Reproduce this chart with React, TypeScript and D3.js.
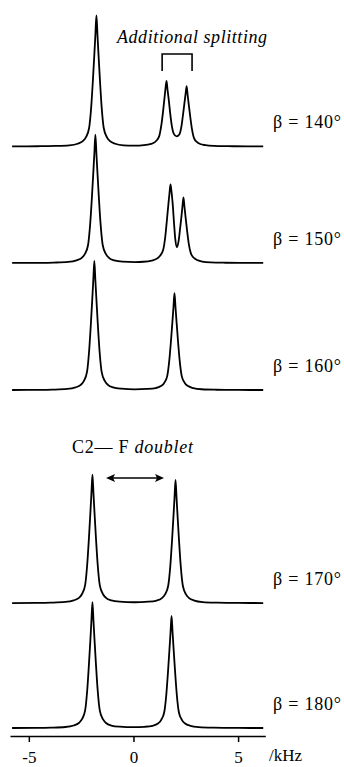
import React, { useEffect, useRef } from "react";
import * as d3 from "d3";

// ---- data (frequency in kHz, intensity in a.u.; 140° main peak = 100) ----
const angles = ["140", "150", "160", "170", "180"];
const offsets = [444, 355, 258, 95.4, 0]; // vertical stacking offsets (a.u.)

const spec140: [number, number][] = [
  [-5.8, 0], [-4.6, 0.1], [-3.77, 0.3], [-3.07, 0.8], [-2.67, 2], [-2.42, 4], [-2.27, 7], [-2.12, 14],
  [-2.02, 30], [-1.94, 50], [-1.87, 70], [-1.82, 85], [-1.77, 100], [-1.72, 85], [-1.67, 70],
  [-1.6, 50], [-1.52, 30], [-1.42, 14], [-1.27, 7], [-1.12, 4], [-0.87, 2], [-0.47, 0.8],
  [0.0, 0.5], [0.28, 0.6], [0.68, 1.3], [0.93, 2.4], [1.08, 4.1], [1.23, 7.8], [1.33, 16],
  [1.41, 26], [1.48, 36.5], [1.53, 44], [1.58, 50], [1.63, 43], [1.68, 36.5], [1.75, 26],
  [1.83, 16], [1.93, 9.5], [2.06, 7.6], [2.19, 9], [2.29, 15], [2.37, 24.5], [2.44, 33.5],
  [2.49, 40], [2.54, 46], [2.59, 39], [2.64, 32.2], [2.71, 23], [2.79, 13.8], [2.89, 6.5],
  [3.04, 3.2], [3.19, 1.8], [3.44, 0.9], [3.84, 0.37], [4.54, 0.14], [5.5, 0], [6.2, 0],
];

const spec150: [number, number][] = [
  [-5.8, 0], [-4.6, 0.1], [-3.82, 0.3], [-3.12, 0.8], [-2.72, 2], [-2.47, 3.9], [-2.32, 6.9], [-2.17, 13.7],
  [-2.07, 29.4], [-1.99, 49], [-1.92, 68.6], [-1.87, 83.3], [-1.82, 98], [-1.77, 83.3], [-1.72, 68.6],
  [-1.65, 49], [-1.57, 29.4], [-1.47, 13.7], [-1.32, 6.9], [-1.17, 3.9], [-0.92, 2], [-0.52, 1],
  [0.1, 0.7], [0.47, 0.9], [0.87, 1.8], [1.12, 3.3], [1.27, 5.5], [1.42, 10], [1.52, 20],
  [1.6, 33], [1.67, 45], [1.72, 53], [1.77, 60], [1.82, 54], [1.87, 46], [1.94, 30], [2.0, 18],
  [2.08, 12], [2.16, 17], [2.22, 25], [2.29, 35], [2.34, 43], [2.39, 50], [2.44, 42.5], [2.49, 35],
  [2.56, 25], [2.64, 15], [2.74, 7.5], [2.89, 3.8], [3.04, 2.2], [3.29, 1.1], [3.69, 0.45],
  [4.39, 0.15], [5.5, 0], [6.2, 0],
];

const spec160: [number, number][] = [
  [-5.8, 0], [-4.6, 0.1], [-3.87, 0.3], [-3.17, 0.8], [-2.77, 2], [-2.52, 3.9], [-2.37, 6.9], [-2.22, 13.8],
  [-2.12, 29.6], [-2.04, 49.3], [-1.97, 69], [-1.92, 83.7], [-1.87, 98.5], [-1.82, 83.7], [-1.77, 69],
  [-1.7, 49.3], [-1.62, 29.6], [-1.52, 13.8], [-1.37, 6.9], [-1.22, 3.9], [-0.97, 2], [-0.57, 1],
  [0.05, 0.5], [0.66, 0.8], [1.06, 1.5], [1.31, 3], [1.46, 5.2], [1.61, 10.4], [1.71, 22.2],
  [1.79, 37], [1.86, 51.8], [1.91, 62.9], [1.96, 74], [2.01, 62.9], [2.06, 51.8], [2.13, 37],
  [2.21, 22.2], [2.31, 10.4], [2.46, 5.2], [2.61, 3], [2.86, 1.5], [3.26, 0.6], [3.96, 0.22],
  [5.0, 0.05], [6.2, 0],
];

const spec170: [number, number][] = [
  [-5.8, 0], [-4.7, 0.1], [-3.96, 0.3], [-3.26, 0.8], [-2.86, 2], [-2.61, 3.9], [-2.46, 6.9], [-2.31, 13.7],
  [-2.21, 29.4], [-2.13, 49], [-2.06, 68.6], [-2.01, 83.3], [-1.96, 98], [-1.91, 83.3], [-1.86, 68.6],
  [-1.79, 49], [-1.71, 29.4], [-1.61, 13.7], [-1.46, 6.9], [-1.31, 3.9], [-1.06, 2], [-0.66, 1],
  [0.03, 0.6], [0.71, 1], [1.11, 1.9], [1.36, 3.8], [1.51, 6.6], [1.66, 13.2], [1.76, 28.2],
  [1.84, 47], [1.91, 65.8], [1.96, 79.9], [2.01, 94], [2.06, 79.9], [2.11, 65.8], [2.18, 47],
  [2.26, 28.2], [2.36, 13.2], [2.51, 6.6], [2.66, 3.8], [2.91, 1.9], [3.31, 0.75], [4.01, 0.28],
  [5.0, 0.05], [6.2, 0],
];

const spec180: [number, number][] = [
  [-5.8, 0], [-4.7, 0.1], [-3.96, 0.3], [-3.26, 0.77], [-2.86, 1.9], [-2.61, 3.8], [-2.46, 6.7], [-2.31, 13.4],
  [-2.21, 28.8], [-2.13, 48], [-2.06, 67], [-2.01, 81.6], [-1.96, 96], [-1.91, 81.6], [-1.86, 67],
  [-1.79, 48], [-1.71, 28.8], [-1.61, 13.4], [-1.46, 6.7], [-1.31, 3.8], [-1.06, 1.9], [-0.66, 1],
  [0.0, 0.6], [0.52, 0.9], [0.92, 1.7], [1.17, 3.4], [1.32, 6], [1.47, 12], [1.57, 25.6],
  [1.65, 42.8], [1.72, 59.9], [1.77, 72.7], [1.82, 85.5], [1.87, 72.7], [1.92, 59.9], [1.99, 42.8],
  [2.07, 25.6], [2.17, 12], [2.32, 6], [2.47, 3.4], [2.72, 1.7], [3.12, 0.7], [3.82, 0.26],
  [5.0, 0.05], [6.2, 0],
];

const spectra = [spec140, spec150, spec160, spec170, spec180];
const tickValues = [-5, 0, 5];
const unitLabel = "/kHz";
const splittingLabel = "Additional splitting";
const splittingRange = [1.37, 2.8]; // kHz
const doubletRange = [-1.31, 1.46]; // kHz

const W = 344;
const H = 767;
const SERIF = "'Liberation Serif', 'DejaVu Serif', serif";

export default function App() {
  const axisRef = useRef<SVGGElement>(null);

  const x = d3.scaleLinear().domain([-5.9, 6.3]).range([10, 265.3]);
  const yUnit = d3.scaleLinear().domain([0, 100]).range([728, 597]);
  const line = (off: number) =>
    d3
      .line<[number, number]>()
      .x((d) => x(d[0]))
      .y((d) => yUnit(d[1] + off))
      .curve(d3.curveMonotoneX);

  useEffect(() => {
    if (!axisRef.current) return;
    const g = d3.select(axisRef.current);
    g.selectAll("*").remove();
    g.call(
      d3
        .axisBottom(x)
        .tickValues(tickValues)
        .tickSize(6)
        .tickSizeOuter(0)
        .tickPadding(9)
        .tickFormat((d) => String(d))
    );
    g.select(".domain").attr("stroke", "#000").attr("stroke-width", 1.5);
    g.selectAll(".tick line").attr("stroke", "#000").attr("stroke-width", 1.5);
    g.selectAll(".tick text")
      .attr("font-family", SERIF)
      .attr("font-size", 17)
      .attr("fill", "#000");
  }, []);

  const yb = (i: number) => yUnit(offsets[i]);

  return (
    <svg
      width={W}
      height={H}
      style={{ position: "absolute", left: 0, top: 0, background: "#fff" }}
    >
      {spectra.map((s, i) => (
        <path
          key={angles[i]}
          d={line(offsets[i])(s) || ""}
          fill="none"
          stroke="#000"
          strokeWidth={1.8}
          strokeLinejoin="round"
        />
      ))}
      {angles.map((a, i) => (
        <text
          key={"l" + a}
          x={273}
          y={yb(i) - 18}
          fontFamily={SERIF}
          fontSize={18}
          textLength={68}
          lengthAdjust="spacing"
          fill="#000"
        >
          {"β = " + a + "°"}
        </text>
      ))}
      {/* additional splitting annotation */}
      <text
        x={117}
        y={43}
        fontFamily={SERIF}
        fontSize={18}
        fontStyle="italic"
        textLength={150}
        lengthAdjust="spacing"
        fill="#000"
      >
        {splittingLabel}
      </text>
      <path
        d={`M${x(splittingRange[0])},71 V54 H${x(splittingRange[1])} V71`}
        fill="none"
        stroke="#000"
        strokeWidth={1.6}
      />
      {/* C2-F doublet annotation */}
      <text
        x={72}
        y={453}
        fontFamily={SERIF}
        fontSize={18}
        textLength={121}
        lengthAdjust="spacing"
        fill="#000"
      >
        C2— F <tspan fontStyle="italic">doublet</tspan>
      </text>
      <line
        x1={x(doubletRange[0]) + 4}
        x2={x(doubletRange[1]) - 4}
        y1={478}
        y2={478}
        stroke="#000"
        strokeWidth={1.4}
      />
      <path
        d={`M${x(doubletRange[0])},478 l9,-4 l-2,4 l2,4 Z`}
        fill="#000"
      />
      <path
        d={`M${x(doubletRange[1])},478 l-9,-4 l2,4 l-2,4 Z`}
        fill="#000"
      />
      <g ref={axisRef} transform="translate(0,736)" />
      <text x={269} y={761} fontFamily={SERIF} fontSize={17} fill="#000">
        {unitLabel}
      </text>
    </svg>
  );
}
